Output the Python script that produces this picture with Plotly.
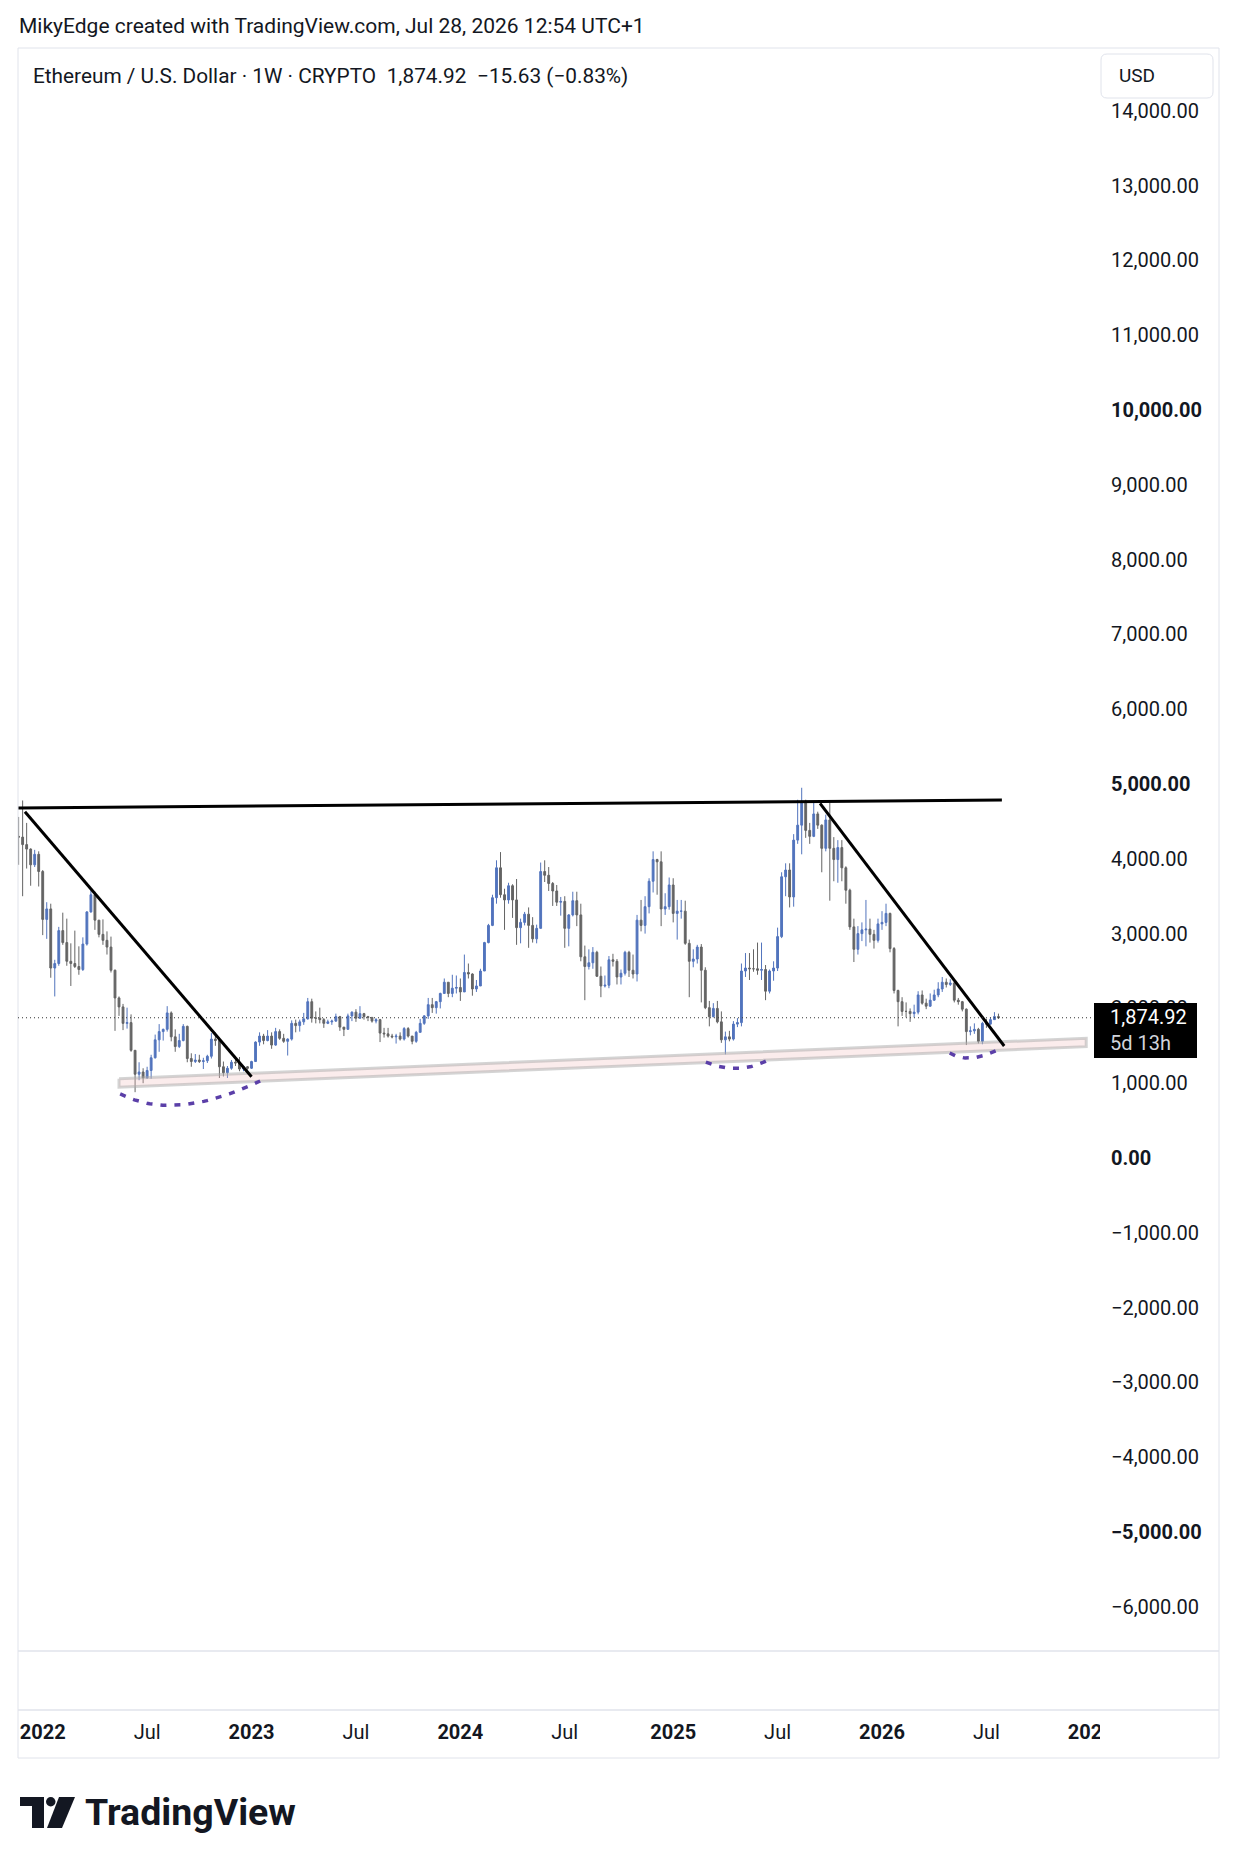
import pandas as pd
import plotly.graph_objects as go

# ---------------- data: ETH/USD weekly candles ----------------
FIRST_WEEK = "2021-11-22"
FIRST_OPEN = 4300

closes = [
    4290, 4190, 4130, 3920, 4060, 3830, 3190, 3330, 2540, 2600,
    3040, 2880, 2630, 2600, 2560, 2520, 2860, 3290, 3520, 3180,
    2990, 2910, 2820, 2510, 2140, 2020, 1800, 1810, 1440, 1120,
    1150, 1070, 1170, 1340, 1580, 1690, 1720, 1940, 1620, 1490,
    1570, 1760, 1330, 1290, 1310, 1290, 1300, 1360, 1590, 1570,
    1220, 1140, 1200, 1280, 1270, 1190, 1220, 1200, 1290, 1550,
    1630, 1570, 1630, 1510, 1690, 1600, 1560, 1590, 1800, 1770,
    1820, 1860, 2090, 1870, 1870, 1850, 1800, 1820, 1830, 1890,
    1750, 1720, 1900, 1950, 1870, 1930, 1890, 1880, 1830, 1850,
    1670, 1660, 1630, 1620, 1630, 1590, 1730, 1630, 1560, 1680,
    1800, 1900, 2050, 2010, 2090, 2200, 2350, 2200, 2270, 2280,
    2220, 2480, 2460, 2260, 2300, 2500, 2880, 3110, 3480, 3880,
    3520, 3450, 3640, 3450, 3080, 3150, 3260, 3110, 2930, 3070,
    3830, 3780, 3670, 3570, 3420, 3430, 3070, 3250, 3440, 3250,
    2690, 2560, 2610, 2750, 2430, 2300, 2310, 2650, 2630, 2420,
    2470, 2750, 2510, 2460, 3180, 3110, 3360, 3700, 3990, 3960,
    3330, 3360, 3650, 3270, 3300, 3300, 2870, 2630, 2660, 2820,
    2510, 2010, 1890, 2000, 1820, 1580, 1620, 1590, 1790, 1810,
    2500, 2540, 2530, 2530, 2510, 2520, 2230, 2500, 2540, 2960,
    3760, 3850, 3490, 4250, 4450, 4770, 4380, 4300, 4600, 4450,
    4140, 4520, 4140, 3990, 4150, 3880, 3580, 3090, 2790, 3000,
    3050, 3060, 2990, 2910, 3130, 3150, 3270, 2800, 2240, 2090,
    1960, 1960, 1930, 1950, 2180, 2070, 2030, 2110, 2180, 2260,
    2350, 2320, 2340, 2110, 2090, 1990, 1690, 1700, 1720, 1560,
    1800, 1790, 1850, 1890.55, 1874.92,
]

highs = [
    4560, 4780, 4480, 4140, 4120, 4100, 3850, 3420, 3400, 2650,
    3090, 3280, 3200, 2870, 3040, 2830, 2950, 3300, 3580, 3560,
    3180, 3190, 3030, 2960, 2520, 2160, 2060, 2010, 1920, 1440,
    1280, 1200, 1220, 1380, 1650, 1790, 1730, 2030, 1960, 1720,
    1660, 1790, 1770, 1400, 1390, 1380, 1340, 1380, 1670, 1680,
    1610, 1290, 1230, 1310, 1350, 1350, 1230, 1230, 1300, 1560,
    1680, 1660, 1710, 1680, 1740, 1720, 1660, 1600, 1840, 1850,
    1850, 1940, 2140, 2130, 1960, 2010, 1870, 1850, 1850, 1930,
    1900, 1750, 1930, 1960, 1990, 2030, 1940, 1900, 1880, 1870,
    1860, 1740, 1740, 1660, 1660, 1680, 1750, 1750, 1630, 1700,
    1860, 1910, 2140, 2140, 2100, 2210, 2400, 2350, 2450, 2440,
    2400, 2720, 2600, 2470, 2380, 2530, 2890, 3130, 3520, 3980,
    4090, 3600, 3680, 3660, 3730, 3200, 3290, 3350, 3220, 3120,
    3950, 3980, 3890, 3690, 3650, 3490, 3500, 3260, 3560, 3560,
    3400, 2840, 2790, 2820, 2770, 2560, 2440, 2700, 2730, 2660,
    2520, 2770, 2770, 2720, 3250, 3450, 3500, 3740, 4100, 4000,
    4100, 3540, 3750, 3740, 3450, 3450, 3440, 2920, 2790, 2850,
    2860, 2550, 2100, 2070, 2100, 1960, 1690, 1700, 1830, 1870,
    2600, 2740, 2740, 2790, 2880, 2880, 2580, 2520, 2630, 3080,
    3820, 3940, 3940, 4330, 4790, 4950, 4790, 4480, 4770, 4630,
    4460, 4590, 4750, 4290, 4250, 4250, 3900, 3600, 3200, 3100,
    3150, 3450, 3200, 3050, 3200, 3300, 3400, 3280, 2820, 2250,
    2150, 2080, 2000, 2050, 2230, 2240, 2130, 2200, 2250, 2350,
    2420, 2400, 2390, 2360, 2140, 2100, 2000, 1760, 1800, 1740,
    1820, 1860, 1880, 1950, 1930,
]

lows = [
    3920, 3500, 3870, 3640, 3890, 3630, 2980, 2930, 2410, 2160,
    2570, 2850, 2570, 2300, 2540, 2450, 2500, 2840, 3280, 3050,
    2950, 2850, 2720, 2480, 1700, 1900, 1710, 1730, 1420, 880,
    1040, 1000, 1060, 1060, 1330, 1420, 1570, 1690, 1560, 1420,
    1470, 1560, 1280, 1220, 1270, 1270, 1190, 1270, 1330, 1500,
    1070, 1090, 1070, 1180, 1230, 1160, 1160, 1180, 1190, 1290,
    1500, 1520, 1560, 1460, 1500, 1580, 1540, 1370, 1570, 1680,
    1690, 1780, 1850, 1810, 1800, 1800, 1740, 1790, 1780, 1820,
    1700, 1630, 1720, 1830, 1820, 1860, 1850, 1830, 1810, 1800,
    1550, 1610, 1610, 1600, 1530, 1570, 1570, 1610, 1520, 1540,
    1680, 1780, 1860, 1940, 1930, 2000, 2200, 2150, 2150, 2200,
    2100, 2220, 2400, 2170, 2220, 2300, 2500, 2870, 3100, 3400,
    3480, 3050, 3400, 3210, 2850, 2870, 3110, 2810, 2880, 2870,
    3070, 3690, 3570, 3370, 3370, 3240, 2810, 2830, 3230, 3100,
    2630, 2110, 2520, 2530, 2420, 2150, 2280, 2270, 2560, 2320,
    2320, 2440, 2420, 2400, 2360, 3030, 3000, 3270, 3550, 3520,
    3100, 3250, 3320, 3150, 2920, 3200, 2850, 2150, 2550, 2600,
    2080, 1990, 1760, 1880, 1800, 1540, 1385, 1560, 1570, 1750,
    1760, 2420, 2380, 2490, 2450, 2380, 2110, 2200, 2370, 2500,
    2940, 3500, 3350, 3360, 4200, 4060, 4280, 4200, 4290, 4400,
    3820, 4100, 3440, 3700, 3680, 3700, 3400, 3050, 2620, 2720,
    2900, 2830, 2880, 2800, 2880, 3050, 3100, 2750, 2200, 1760,
    1900, 1880, 1820, 1880, 1920, 2050, 1990, 2020, 2100, 2150,
    2220, 2280, 2300, 2080, 2050, 1960, 1510, 1640, 1660, 1530,
    1520, 1740, 1780, 1850, 1860,
]

LAST_PRICE = 1874.92

# time axis labels
time_ticks = ["2022-01-03", "2022-07-04", "2023-01-02", "2023-07-03", "2024-01-01",
              "2024-07-01", "2025-01-06", "2025-07-07", "2026-01-05", "2026-07-06",
              "2027-01-04"]
time_labels = ["2022", "Jul", "2023", "Jul", "2024", "Jul", "2025", "Jul", "2026", "Jul", "2027"]

# price axis labels
price_ticks = [14000, 13000, 12000, 11000, 10000, 9000, 8000, 7000, 6000, 5000, 4000,
               3000, 2000, 1000, 0, -1000, -2000, -3000, -4000, -5000, -6000]
bold_ticks = [10000, 5000, 0, -5000]

# hand drawn objects on the chart (date, price)
resistance = [("2021-11-21", 4679), ("2026-08-02", 4786)]
down_line_1 = [("2021-12-03", 4630), ("2023-01-02", 1087)]
down_line_2 = [("2025-09-19", 4742), ("2026-08-06", 1497)]
support_band = [("2022-05-16", 1003), ("2026-12-27", 1545)]
band_half = 56
arcs = [
    [("2022-05-18", 856), ("2022-08-22", 481), ("2023-01-17", 1030)],
    [("2025-03-04", 1283), ("2025-04-26", 1103), ("2025-06-17", 1297)],
    [("2026-05-03", 1404), ("2026-06-04", 1250), ("2026-07-26", 1444)],
]

# ---------------- geometry (page pixels) ----------------
W, H = 1237, 1863
BODY = 8  # default page margin around the plot div
PL, PR, PT, PB = 18, 1100, 48, 1758
MAIN_BOTTOM, AXIS_TOP, PANEL_RIGHT = 1651, 1710, 1219
Y_TOP, Y_BOTTOM = 14840, -6591
X_START, X_END = "2021-11-20 22:00", "2027-01-20"

INK = "#131722"
UP = "#5274bd"
DOWN = "#646464"
FONT = "Roboto"


def px(x):
    return (x - PL) / (PR - PL)


def py(y):
    return (PB - y) / (PB - PT)


def bezier(p0, p1, p2, n=48):
    t0, t1, t2 = (pd.Timestamp(p[0]).value for p in (p0, p1, p2))
    xs, ys = [], []
    for k in range(n + 1):
        t = k / n
        a, b, c = (1 - t) ** 2, 2 * (1 - t) * t, t * t
        xs.append(pd.Timestamp(int(a * t0 + b * t1 + c * t2)))
        ys.append(a * p0[1] + b * p1[1] + c * p2[1])
    return xs, ys


def fmt(v):
    s = f"{abs(v):,.2f}"
    if v < 0:
        s = "\u2212" + s
    return f"<b>{s}</b>" if v in bold_ticks else s


weeks = pd.date_range(FIRST_WEEK, periods=len(closes), freq="7D")
opens = [FIRST_OPEN] + closes[:-1]

fig = go.Figure()

fig.add_trace(go.Candlestick(
    x=weeks, open=opens, high=highs, low=lows, close=closes,
    increasing=dict(line=dict(color=UP, width=1), fillcolor=UP),
    decreasing=dict(line=dict(color=DOWN, width=1), fillcolor=DOWN),
    whiskerwidth=0, hoverinfo="skip", showlegend=False))

# support band
(b0d, b0v), (b1d, b1v) = support_band
fig.add_trace(go.Scatter(
    x=[b0d, b1d, b1d, b0d, b0d],
    y=[b0v + band_half, b1v + band_half, b1v - band_half, b0v - band_half, b0v + band_half],
    mode="lines", fill="toself", fillcolor="rgba(240,185,185,0.28)",
    line=dict(color="rgba(170,170,170,0.5)", width=3),
    hoverinfo="skip", showlegend=False))

# trend lines
for seg in (resistance, down_line_1, down_line_2):
    fig.add_trace(go.Scatter(
        x=[p[0] for p in seg], y=[p[1] for p in seg], mode="lines",
        line=dict(color="#000000", width=3), hoverinfo="skip", showlegend=False))

# dashed arcs under the lows
for arc in arcs:
    ax, ay = bezier(*arc)
    fig.add_trace(go.Scatter(
        x=ax, y=ay, mode="lines",
        line=dict(color="#5b3fa8", width=3.5, dash="6px,8px"),
        hoverinfo="skip", showlegend=False))

# time axis labels in their own row (clipped at the pane edge)
fig.add_trace(go.Scatter(
    x=time_ticks, y=[0.5] * len(time_ticks), mode="text",
    text=[f"<b>{t}</b>" if t.isdigit() else t for t in time_labels],
    textfont=dict(family=FONT, size=20, color=INK),
    xaxis="x", yaxis="y2", cliponaxis=True, hoverinfo="skip", showlegend=False))

shapes = [
    # panel frame and separators
    dict(type="rect", xref="paper", yref="paper", x0=px(PL), x1=px(PANEL_RIGHT),
         y0=py(PT), y1=py(PB), line=dict(color="#e0e3eb", width=1)),
    dict(type="line", xref="paper", yref="paper", x0=px(PL), x1=px(PANEL_RIGHT),
         y0=py(MAIN_BOTTOM), y1=py(MAIN_BOTTOM), line=dict(color="#e0e3eb", width=1.5)),
    dict(type="line", xref="paper", yref="paper", x0=px(PL), x1=px(PANEL_RIGHT),
         y0=py(AXIS_TOP), y1=py(AXIS_TOP), line=dict(color="#e0e3eb", width=1.5)),
    # last price dotted line
    dict(type="line", xref="paper", yref="y", x0=0, x1=1, y0=LAST_PRICE, y1=LAST_PRICE,
         line=dict(color="#333333", width=1, dash="1px,3px")),
    # last price tag
    dict(type="rect", xref="paper", yref="paper", x0=px(1094), x1=px(1197),
         y0=py(1003), y1=py(1058), fillcolor="#000000", line=dict(width=0)),
    # USD button
    dict(type="path", xref="paper", yref="paper",
         path=(f"M {px(1107)},{py(54)} L {px(1207)},{py(54)} Q {px(1213)},{py(54)} {px(1213)},{py(60)} "
               f"L {px(1213)},{py(92)} Q {px(1213)},{py(98)} {px(1207)},{py(98)} "
               f"L {px(1107)},{py(98)} Q {px(1101)},{py(98)} {px(1101)},{py(92)} "
               f"L {px(1101)},{py(60)} Q {px(1101)},{py(54)} {px(1107)},{py(54)} Z"),
         line=dict(color="#e0e3eb", width=1), fillcolor="white"),
    # TradingView logo mark
    dict(type="rect", xref="paper", yref="paper", x0=px(20), x1=px(44), y0=py(1797), y1=py(1806),
         fillcolor=INK, line=dict(width=0)),
    dict(type="rect", xref="paper", yref="paper", x0=px(32), x1=px(44), y0=py(1797), y1=py(1828),
         fillcolor=INK, line=dict(width=0)),
    dict(type="circle", xref="paper", yref="paper", x0=px(46), x1=px(55.5), y0=py(1797), y1=py(1806.5),
         fillcolor=INK, line=dict(width=0)),
    dict(type="path", xref="paper", yref="paper",
         path=f"M {px(59)},{py(1797)} L {px(75)},{py(1797)} L {px(62)},{py(1828)} L {px(47)},{py(1828)} Z",
         fillcolor=INK, line=dict(width=0)),
]

annotations = [
    dict(text="MikyEdge created with TradingView.com, Jul 28, 2026 12:54 UTC+1",
         x=px(17), y=py(26), xanchor="left", yanchor="middle",
         font=dict(family=FONT, size=21, color=INK)),
    dict(text="Ethereum / U.S. Dollar \u00b7 1W \u00b7 CRYPTO\u20021,874.92\u2002\u221215.63 (\u22120.83%)",
         x=px(31), y=py(76), xanchor="left", yanchor="middle",
         font=dict(family=FONT, size=20.8, color=INK)),
    dict(text="USD", x=px(1117), y=py(76), xanchor="left", yanchor="middle",
         font=dict(family=FONT, size=19, color=INK)),
    dict(text="1,874.92", x=px(1108), y=py(1017), xanchor="left", yanchor="middle",
         font=dict(family=FONT, size=20, color="#ffffff")),
    dict(text="5d 13h", x=px(1108), y=py(1043), xanchor="left", yanchor="middle",
         font=dict(family=FONT, size=20, color="#d1d4dc")),
    dict(text="<b>TradingView</b>", x=px(83), y=py(1812), xanchor="left", yanchor="middle",
         font=dict(family=FONT, size=37.5, color=INK)),
]
for a in annotations:
    a.update(xref="paper", yref="paper", showarrow=False)

fig.update_layout(
    width=W - BODY, height=H - BODY,
    margin=dict(l=PL - BODY, r=W - PR, t=PT - BODY, b=H - PB, pad=0),
    paper_bgcolor="white", plot_bgcolor="white",
    font=dict(family=FONT, color=INK),
    showlegend=False,
    boxgap=0.35,
    xaxis=dict(range=[X_START, X_END], type="date", anchor="y",
               showticklabels=False, showgrid=False, zeroline=False, showline=False,
               ticks="", rangeslider=dict(visible=False), fixedrange=True),
    yaxis=dict(domain=[py(MAIN_BOTTOM), 1], range=[Y_BOTTOM, Y_TOP], side="right",
               tickvals=price_ticks, ticktext=[fmt(v) for v in price_ticks],
               tickfont=dict(family=FONT, size=20, color=INK), ticklabelstandoff=10,
               showgrid=False, zeroline=False, showline=False, ticks="",
               automargin=False, fixedrange=True),
    yaxis2=dict(domain=[0, py(AXIS_TOP)], range=[0, 1], anchor="x", visible=False,
                fixedrange=True),
    shapes=shapes,
    annotations=annotations,
)

fig.write_html("out.html")
